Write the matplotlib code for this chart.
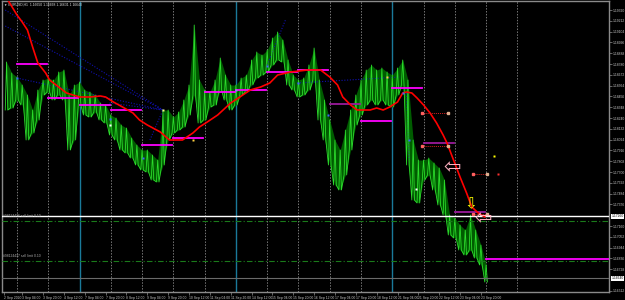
import matplotlib.pyplot as plt
import matplotlib.transforms as mtransforms

# EURUSD H1, 2 Sep - 23 Sep 2020 (MetaTrader style chart)
# x = trading hours counted from 3 Sep 00:00, y = price

title = "\u25bc EURUSD,H1  1.16650 1.16668 1.16631 1.16640"

# price bars, sampled every 4 hours
bar_h = [-8, -4, 0, 4, 8, 12, 16, 20, 24, 28, 32, 36, 40, 44, 48, 52, 56, 60, 64, 68,
         72, 76, 80, 84, 88, 92, 96, 100, 104, 108, 112, 116, 120, 124, 128, 132, 136, 140,
         144, 148, 152, 156, 160, 164, 168, 172, 176, 180, 184, 188, 192, 196, 200, 204,
         208, 212, 216, 220, 224, 228, 232, 236, 240, 244, 248, 252, 256, 260, 264, 268,
         272, 276, 280, 284, 288, 292, 296, 300, 304, 308, 312, 316, 320, 324, 328, 332,
         336, 340, 344, 348, 352, 356, 360]
bar_hi = [1.1880, 1.1869, 1.1865, 1.1857, 1.1847, 1.1832, 1.1852, 1.1862, 1.1864, 1.1862,
          1.1870, 1.1872, 1.1847, 1.1857, 1.1860, 1.1852, 1.1850, 1.1847, 1.1839, 1.1837,
          1.1827, 1.1824, 1.1817, 1.1814, 1.1804, 1.1797, 1.1792, 1.1792, 1.1787, 1.1782,
          1.1832, 1.1832, 1.1825, 1.1830, 1.1842, 1.1857, 1.1917, 1.1862, 1.1852, 1.1850,
          1.1862, 1.1884, 1.1867, 1.1857, 1.1857, 1.1864, 1.1867, 1.1882, 1.1890, 1.1887,
          1.1892, 1.1904, 1.1910, 1.1902, 1.1882, 1.1867, 1.1862, 1.1864, 1.1877, 1.1894,
          1.1862, 1.1842, 1.1822, 1.1802, 1.1792, 1.1812, 1.1832, 1.1847, 1.1862, 1.1872,
          1.1877, 1.1872, 1.1874, 1.1870, 1.1867, 1.1874, 1.1882, 1.1862, 1.1802, 1.1782,
          1.1782, 1.1784, 1.1779, 1.1774, 1.1762, 1.1727, 1.1724, 1.1717, 1.1712, 1.1727,
          1.1712, 1.1697, 1.1677]
bar_lo = [1.1832, 1.1834, 1.1842, 1.1837, 1.1802, 1.1809, 1.1822, 1.1847, 1.1850, 1.1842,
          1.1847, 1.1842, 1.1792, 1.1802, 1.1837, 1.1827, 1.1825, 1.1830, 1.1822, 1.1819,
          1.1807, 1.1802, 1.1792, 1.1789, 1.1784, 1.1777, 1.1772, 1.1770, 1.1762, 1.1760,
          1.1777, 1.1802, 1.1809, 1.1812, 1.1815, 1.1827, 1.1847, 1.1819, 1.1822, 1.1835,
          1.1837, 1.1852, 1.1842, 1.1832, 1.1837, 1.1847, 1.1850, 1.1857, 1.1864, 1.1867,
          1.1870, 1.1877, 1.1882, 1.1880, 1.1857, 1.1852, 1.1845, 1.1847, 1.1852, 1.1862,
          1.1822, 1.1802, 1.1777, 1.1757, 1.1752, 1.1767, 1.1792, 1.1817, 1.1827, 1.1837,
          1.1842, 1.1837, 1.1842, 1.1837, 1.1835, 1.1847, 1.1857, 1.1777, 1.1742, 1.1739,
          1.1762, 1.1767, 1.1752, 1.1737, 1.1727, 1.1707, 1.1704, 1.1692, 1.1687, 1.1692,
          1.1684, 1.1677, 1.1660]

# red moving average
ma_h = [-7, 0, 4, 8, 12, 16, 22, 25, 32, 38, 48, 56, 64, 68, 74, 81, 89, 94, 100, 110,
        117, 127, 135, 140, 146, 154, 164, 171, 179, 187, 194, 200, 210, 223, 233, 240,
        246, 250, 256, 261, 271, 276, 281, 286, 292, 296, 299, 303, 307, 312, 317, 322,
        327, 330, 335, 340, 345, 349, 354, 359]
ma_p = [1.1942, 1.1927, 1.1920, 1.1912, 1.1895, 1.1879, 1.1869, 1.1862, 1.1855, 1.1849,
        1.1845, 1.1845, 1.1846, 1.1845, 1.1840, 1.1835, 1.1829, 1.1822, 1.1817, 1.1810,
        1.1802, 1.1802, 1.1809, 1.1815, 1.1820, 1.1827, 1.1839, 1.1845, 1.1852, 1.1855,
        1.1859, 1.1867, 1.1870, 1.1872, 1.1872, 1.1865, 1.1857, 1.1845, 1.1837, 1.1832,
        1.1832, 1.1834, 1.1832, 1.1835, 1.1840, 1.1849, 1.1850, 1.1849, 1.1844, 1.1837,
        1.1829, 1.1819, 1.1807, 1.1799, 1.1782, 1.1765, 1.1749, 1.1735, 1.1729, 1.1725]

# daily pivot segments, one per trading day (day 0 = 3 Sep)
pivot_day = [0, 1, 2, 3, 4, 5, 6, 7, 8, 9, 10, 11, 12, 13, 14]
pivot_p = [1.1878, 1.1844, 1.1837, 1.1832, 1.1797, 1.1804, 1.1850, 1.1852, 1.1870,
           1.1872, 1.1838, 1.1821, 1.1854, 1.1799, 1.1730]
pivot_dark = [10, 13, 14]
last_pivot = 1.1683

# blue dotted trend lines (h0, p0, h1, p1)
trend_lines = [(-9, 1.1932, 112, 1.1832), (-9, 1.1916, 112, 1.1832),
               (0, 1.1864, 112, 1.1832), (71, 1.1839, 112, 1.1832),
               (102, 1.1802, 112, 1.1832), (215, 1.1859, 294, 1.1865),
               (192, 1.1877, 206, 1.1922), (299, 1.1849, 301, 1.1782)]

# red dotted target lines
target_h0 = [311, 311, 350, 350]
target_h1 = [331, 331, 361, 361]
target_p = [1.1829, 1.1796, 1.1768, 1.1728]

# small signal marks
mark_h = [0, 71, 71, 97, 112, 135, 168, 192, 216, 239, 284, 296, 301, 306, 366, 369]
mark_p = [1.1864, 1.1823, 1.1817, 1.1784, 1.1832, 1.1802, 1.1852, 1.1876, 1.1859,
          1.1827, 1.1865, 1.1849, 1.1802, 1.1753, 1.1786, 1.1768]
mark_c = ['#4060ff', '#4060ff', '#ffffff', '#4060ff', '#ffff80', '#ffd040', '#8090ff',
          '#4060ff', '#4060ff', '#4060ff', '#ffd040', '#4060ff', '#4060ff', '#ffffff',
          '#ffff00', '#ff3030']

# lines across the chart
white_level = 1.1726
bid_level = 1.1664
limit_levels = [1.1721, 1.1681]
limit_text = ["#98124436 sell limit 0.10", "#98124437 sell limit 0.10"]

# axes labels
time_h = [-10, 4, 20, 36, 52, 68, 84, 100, 116, 132, 148, 164, 180, 196, 212, 228, 244,
          260, 276, 292, 308, 324, 340, 356]
time_lab = ["2 Sep 2020", "3 Sep 04:00", "3 Sep 20:00", "4 Sep 12:00", "7 Sep 04:00",
            "7 Sep 20:00", "8 Sep 12:00", "9 Sep 04:00", "9 Sep 20:00", "10 Sep 12:00",
            "11 Sep 04:00", "11 Sep 20:00", "14 Sep 12:00", "15 Sep 04:00", "15 Sep 20:00",
            "16 Sep 12:00", "17 Sep 04:00", "17 Sep 20:00", "18 Sep 12:00", "21 Sep 04:00",
            "21 Sep 20:00", "22 Sep 12:00", "23 Sep 04:00", "23 Sep 20:00"]
price_ticks = [1.19320, 1.19212, 1.19104, 1.18996, 1.18888, 1.18780, 1.18672, 1.18564,
               1.18456, 1.18348, 1.18240, 1.18132, 1.18024, 1.17916, 1.17808, 1.17700,
               1.17592, 1.17484, 1.17376, 1.17160, 1.17052, 1.16944, 1.16836, 1.16728,
               1.16512]

day_lines = [0, 24, 72, 96, 120, 144, 192, 216, 240, 264, 312, 336, 360, 384]
week_lines = [48, 168, 288]

plt.rcParams['font.family'] = ['Liberation Sans', 'DejaVu Sans']
fs = 2.4
fg = '#c8c8c8'

fig = plt.figure(figsize=(6.25, 3), dpi=100, facecolor='black')
ax = fig.add_axes([2 / 625, 8 / 300, 607 / 625, 291 / 300], facecolor='black')
ax.set_xlim(-11.5, 454.3)
ax.set_ylim(1.1650, 1.1941)

for h in day_lines:
    ax.axvline(h, color='#777777', lw=0.7, ls=(0, (1.5, 1.5)), zorder=1)
for h in week_lines:
    ax.axvline(h, color='#1a7a9a', lw=1.0, zorder=1)

# price bars
ax.fill_between(bar_h, bar_lo, bar_hi, color='#005c00', lw=0, zorder=2)
zig_x, zig_y = [], []
for h, hi, lo in zip(bar_h, bar_hi, bar_lo):
    zig_x += [h - 1.0, h, h + 1.0]
    zig_y += [lo, hi, lo]
ax.plot(zig_x, zig_y, color='#2cdc2c', lw=0.6, zorder=3)

for h0, p0, h1, p1 in trend_lines:
    ax.plot([h0, h1], [p0, p1], color='#1010b0', lw=0.8, ls=(0, (1, 1.5)), zorder=2)

for d, p in zip(pivot_day, pivot_p):
    col = '#9a1a9a' if d in pivot_dark else '#ff00ff'
    ax.plot([24 * d, 24 * d + 23], [p, p], color=col, lw=1.3, zorder=4)
ax.plot([360, 454.3], [last_pivot, last_pivot], color='#ff00ff', lw=1.3, zorder=4)

ax.plot(ma_h, ma_p, color='#ff0000', lw=1.2, zorder=5)

for h0, h1, p in zip(target_h0, target_h1, target_p):
    ax.plot([h0, h1], [p, p], color='#d02020', lw=0.7, ls=(0, (1, 1)), zorder=5)
    ax.plot([h0], [p], 's', ms=1.8, color='#ff6060', zorder=6)
    ax.plot([h1], [p], 's', ms=1.8, color='#e0b090', zorder=6)

for h, p, c in zip(mark_h, mark_p, mark_c):
    ax.plot([h], [p], 's', ms=1.6, color=c, mec='none', zorder=6)

ax.text(334, 1.1775, '\u21e6', color='#ffb0c0', fontsize=15, ha='center', va='center',
        family='DejaVu Sans', zorder=7)
ax.text(348, 1.1738, '\u21e9', color='#ffff00', fontsize=11, ha='center', va='center',
        family='DejaVu Sans', zorder=7)
ax.text(358, 1.1724, '\u21e6', color='#ffb0c0', fontsize=15, ha='center', va='center',
        family='DejaVu Sans', zorder=7)

ax.axhline(white_level, color='#ffffff', lw=1.0, zorder=4)
ax.axhline(bid_level, color='#6a6a6a', lw=0.8, zorder=4)
for lv, txt in zip(limit_levels, limit_text):
    ax.axhline(lv, color='#1a7a1a', lw=0.8, ls=(0, (5, 2, 1, 2)), zorder=4)
    ax.text(-10.5, lv + 0.0003, txt, color='#b0b0b0', fontsize=fs, va='bottom', zorder=7)

ax.text(0.003, 0.995, title, transform=ax.transAxes, color='#e0e0e0', fontsize=fs,
        va='top', ha='left')

# axes styling
for s in ax.spines.values():
    s.set_color('#8a8a8a')
    s.set_linewidth(1.0)
ax.yaxis.tick_right()
ax.set_yticks(price_ticks)
ax.set_yticklabels([f"{v:.5f}" for v in price_ticks])
ax.set_xticks(time_h)
ax.set_xticklabels(time_lab)
for lab in ax.get_xticklabels():
    lab.set_ha('left')
ax.tick_params(axis='both', colors='#8a8a8a', labelcolor=fg, labelsize=fs,
               length=2, width=0.5, pad=1)

trans = mtransforms.blended_transform_factory(ax.transAxes, ax.transData)
for lv, fc in [(white_level, '#ffffff'), (bid_level, '#ffffff')]:
    ax.text(1.004, lv, f"{lv:.5f}", transform=trans, color='black', fontsize=fs,
            va='center', ha='left', clip_on=False,
            bbox=dict(boxstyle='square,pad=0.15', fc=fc, ec='none'))

fig.savefig('out.png', dpi=100, facecolor='black')
